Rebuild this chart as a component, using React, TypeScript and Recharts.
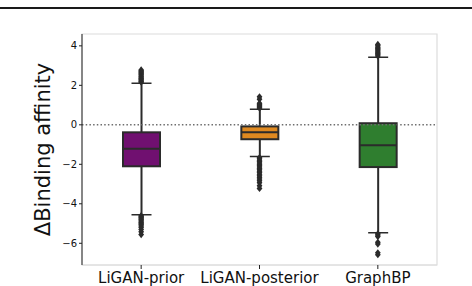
import {
  ComposedChart,
  Bar,
  Scatter,
  XAxis,
  YAxis,
  ReferenceLine,
  ReferenceArea,
} from "recharts";

const categories = ["LiGAN-prior", "LiGAN-posterior", "GraphBP"];
const whiskerLow = [-4.55, -1.6, -5.47];
const quartile1 = [-2.1, -0.73, -2.14];
const medians = [-1.21, -0.38, -1.04];
const quartile3 = [-0.38, -0.08, 0.08];
const whiskerHigh = [2.1, 0.79, 3.42];
const fillColors = ["#701070", "#df8920", "#2f7e2f"];

const priorOutliers = [
  2.16, 2.2, 2.26, 2.31, 2.35, 2.41, 2.46, 2.52, 2.57, 2.62, 2.67, 2.72, 2.78,
  -4.6, -4.65, -4.7, -4.76, -4.81, -4.87, -4.93, -4.99, -5.05, -5.12, -5.2,
  -5.3, -5.42, -5.56,
];
const posteriorOutliers = [
  0.84, 0.89, 0.94, 0.99, 1.04, 1.09, 1.3, 1.42, -1.66, -1.72, -1.79, -1.86,
  -1.93, -2.0, -2.07, -2.14, -2.21, -2.28, -2.35, -2.42, -2.5, -2.58, -2.66,
  -2.74, -2.83, -2.93, -3.08, -3.22,
];
const graphbpOutliers = [
  3.48, 3.55, 3.61, 3.68, 3.74, 3.8, 3.87, 3.93, 4.0, 4.07, -5.52, -5.58,
  -5.66, -5.95, -6.04, -6.48, -6.58,
];

const yTicks = [-6, -4, -2, 0, 2, 4];
const yDomain = [-7.1, 4.6];

const boxData = categories.map((cat, i) => ({
  cat,
  range: [whiskerLow[i], whiskerHigh[i]],
  lo: whiskerLow[i],
  hi: whiskerHigh[i],
  q1: quartile1[i],
  med: medians[i],
  q3: quartile3[i],
  color: fillColors[i],
}));

const outlierData = [
  ...priorOutliers.map((v) => ({ cat: categories[0], value: v })),
  ...posteriorOutliers.map((v) => ({ cat: categories[1], value: v })),
  ...graphbpOutliers.map((v) => ({ cat: categories[2], value: v })),
];

const LINE = "#2b2b2b";

function BoxShape(props: any) {
  const { x, y, width, height, payload } = props;
  const top = Math.min(y, y + height);
  const bottom = Math.max(y, y + height);
  const { lo, hi, q1, med, q3, color } = payload;
  const py = (v: number) => bottom - ((v - lo) / (hi - lo)) * (bottom - top);
  const cx = x + width / 2;
  const cap = 10;
  return (
    <g>
      <line x1={cx} x2={cx} y1={py(hi)} y2={py(q3)} stroke={LINE} strokeWidth={2} />
      <line x1={cx} x2={cx} y1={py(q1)} y2={py(lo)} stroke={LINE} strokeWidth={2} />
      <line x1={cx - cap} x2={cx + cap} y1={py(hi)} y2={py(hi)} stroke={LINE} strokeWidth={1.5} />
      <line x1={cx - cap} x2={cx + cap} y1={py(lo)} y2={py(lo)} stroke={LINE} strokeWidth={1.5} />
      <rect
        x={x}
        y={py(q3)}
        width={width}
        height={py(q1) - py(q3)}
        fill={color}
        stroke={LINE}
        strokeWidth={2}
      />
      <line x1={x} x2={x + width} y1={py(med)} y2={py(med)} stroke={LINE} strokeWidth={2} />
    </g>
  );
}

function Diamond(props: any) {
  const { cx, cy } = props;
  return (
    <path
      d={`M${cx},${cy - 3.6}L${cx + 2.9},${cy}L${cx},${cy + 3.6}L${cx - 2.9},${cy}Z`}
      fill={LINE}
    />
  );
}

function YLabel(props: any) {
  const { viewBox } = props;
  const cy = viewBox.y + viewBox.height / 2;
  return (
    <text
      x={50}
      y={cy}
      transform={`rotate(-90, 50, ${cy})`}
      textAnchor="middle"
      fontSize={21}
      fill="#111"
    >
      ΔBinding affinity
    </text>
  );
}

export default function App() {
  return (
    <div
      style={{
        position: "absolute",
        left: 0,
        top: 0,
        width: 472,
        height: 286,
        background: "#fff",
        fontFamily: "DejaVu Sans",
      }}
    >
      <div
        style={{
          position: "absolute",
          left: 0,
          top: 7,
          width: 472,
          height: 2,
          background: "#1a1a1a",
        }}
      />
      <ComposedChart
        width={472}
        height={286}
        data={boxData}
        margin={{ top: 34, right: 35, left: 0, bottom: 0 }}
      >
        <ReferenceArea
          y1={yDomain[0]}
          y2={yDomain[1]}
          fill="none"
          stroke="#dcdcdc"
          strokeWidth={1.2}
        />
        <XAxis
          dataKey="cat"
          type="category"
          allowDuplicatedCategory={false}
          height={21}
          axisLine={{ stroke: "#dcdcdc" }}
          tickLine={{ stroke: "#222" }}
          tickSize={4}
          tickMargin={3}
          tick={{ fontSize: 15, fill: "#111" }}
          interval={0}
        />
        <YAxis
          type="number"
          domain={yDomain}
          ticks={yTicks}
          width={82}
          axisLine={{ stroke: "#222" }}
          tickLine={{ stroke: "#222" }}
          tickSize={3}
          tickMargin={2}
          tick={{ fontSize: 10, fill: "#111" }}
          tickFormatter={(v: number) => String(v).replace("-", "\u2212")}
          allowDataOverflow
          label={<YLabel />}
        />
        <Bar
          dataKey="range"
          barSize={37}
          shape={<BoxShape />}
          isAnimationActive={false}
        />
        <Scatter
          data={outlierData}
          dataKey="value"
          shape={<Diamond />}
          isAnimationActive={false}
        />
        <ReferenceLine
          y={0}
          stroke="#6e6e6e"
          strokeWidth={1.5}
          strokeDasharray="1.5 2.2"
        />
      </ComposedChart>
    </div>
  );
}
